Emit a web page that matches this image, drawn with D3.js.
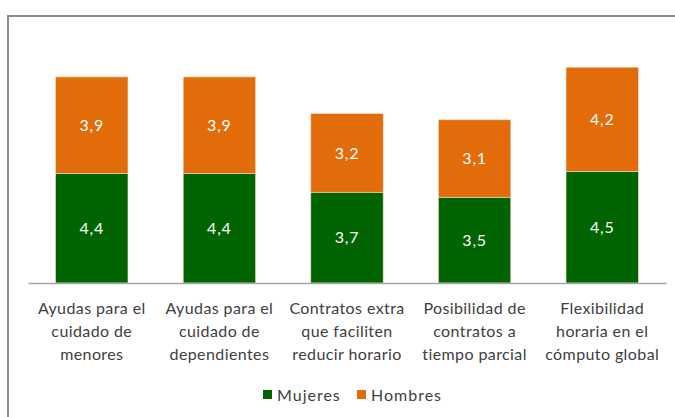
<!DOCTYPE html>
<html><head><meta charset="utf-8">
<script src="https://cdn.jsdelivr.net/npm/d3@7"></script>
<style>html,body{margin:0;padding:0;background:#fff;}svg{display:block;}</style>
</head><body>
<script>
const categories = [
  ["Ayudas para el","cuidado de","menores"],
  ["Ayudas para el","cuidado de","dependientes"],
  ["Contratos extra","que faciliten","reducir horario"],
  ["Posibilidad de","contratos a","tiempo parcial"],
  ["Flexibilidad","horaria en el","cómputo global"]
];
const mujeres = [4.42, 4.42, 3.66, 3.46, 4.5];
const hombres = [3.89, 3.89, 3.17, 3.12, 4.2];
const seriesNames = ["Mujeres","Hombres"];
const colors = ["#006400","#E36C0A"];

const W = 675, H = 417;
const font = "Lato, 'Open Sans', sans-serif";
const svg = d3.select("body").append("svg").attr("width", W).attr("height", H);

// chart frame
svg.append("rect").attr("x", 8).attr("y", 16).attr("width", W + 20).attr("height", H + 20)
  .attr("fill", "none").attr("stroke", "#8c8c8c").attr("stroke-width", 2);

const x = d3.scaleBand().domain(d3.range(categories.length)).range([28, 666]).paddingInner(0.433).paddingOuter(0.2165);
const y = d3.scaleLinear().domain([0, 10]).range([283, 35]);

const data = categories.map((c, i) => ({i, Mujeres: mujeres[i], Hombres: hombres[i]}));
const stack = d3.stack().keys(seriesNames)(data);

const g = svg.append("g");
stack.forEach((s, si) => {
  g.selectAll(null).data(s).join("rect")
    .attr("x", d => x(d.data.i))
    .attr("width", x.bandwidth())
    .attr("y", d => y(d[1]))
    .attr("height", d => y(d[0]) - y(d[1]))
    .attr("fill", colors[si])
    .attr("stroke", "#f4d9c4").attr("stroke-width", 0.6);
  g.selectAll(null).data(s).join("text")
    .attr("x", d => x(d.data.i) + x.bandwidth() / 2)
    .attr("y", d => (y(d[0]) + y(d[1])) / 2)
    .attr("dy", "0.35em")
    .attr("text-anchor", "middle")
    .attr("fill", "#ffffff")
    .attr("font-family", font).attr("font-size", 16).attr("letter-spacing", 0.8)
    .text(d => d3.format(".1f")(d[1] - d[0]).replace(".", ","));
});

// baseline axis
const xAxis = d3.axisBottom(x).tickSize(0).tickFormat("");
const ax = svg.append("g").attr("transform", `translate(0,${y(0)})`).call(xAxis);
ax.select(".domain").attr("stroke", "#a6a6a6").attr("stroke-width", 1.5);

// category labels
const lab = svg.append("g");
categories.forEach((lines, i) => {
  const t = lab.append("text")
    .attr("x", x(i) + x.bandwidth() / 2)
    .attr("y", 314)
    .attr("text-anchor", "middle")
    .attr("fill", "#404040")
    .attr("font-family", font).attr("font-size", 16).attr("letter-spacing", 0.4);
  lines.forEach((l, k) => t.append("tspan").attr("x", x(i) + x.bandwidth() / 2).attr("dy", k ? 23 : 0).text(l));
});

// legend
const legend = svg.append("g");
const legendX = [263, 357];
seriesNames.forEach((n, i) => {
  legend.append("rect").attr("x", legendX[i]).attr("y", 390).attr("width", 9).attr("height", 9).attr("fill", colors[i]);
  legend.append("text").attr("x", legendX[i] + 14).attr("y", 395).attr("dy", "0.35em")
    .attr("fill", "#404040").attr("font-family", font).attr("font-size", 16).attr("letter-spacing", 1).text(n);
});
</script>
</body></html>
